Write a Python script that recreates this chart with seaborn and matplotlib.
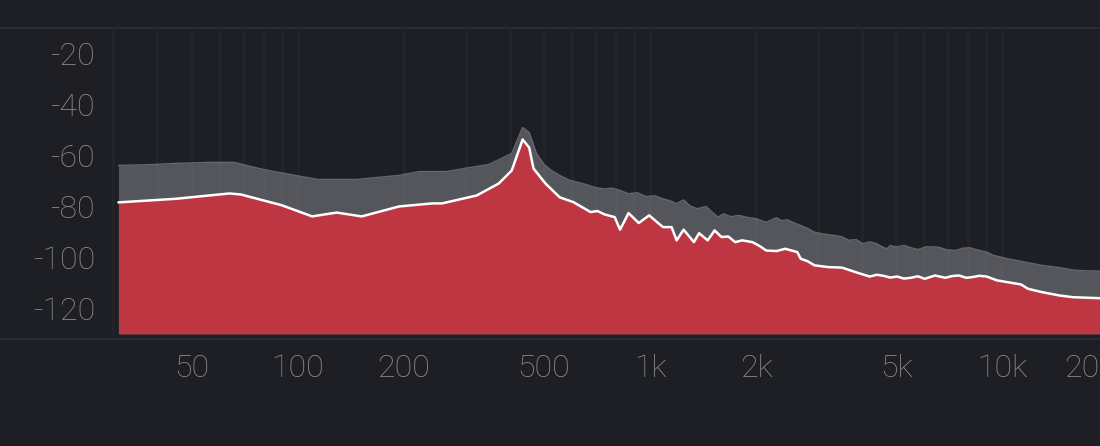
import pandas as pd
import matplotlib.pyplot as plt
import matplotlib.transforms as mtrans
import seaborn as sns

# peak hold (grey) and average (red) spectrum, dB
peak_freq = [31, 38, 45, 56, 66, 80, 100, 114, 147, 194, 221, 264, 300, 349, 405, 435, 454, 476,
             500, 525, 554, 593, 648, 700, 742, 780, 822, 869, 920, 972, 1030, 1088, 1140, 1190,
             1245, 1300, 1362, 1442, 1500, 1559, 1613, 1700, 1784, 1890, 1997, 2137, 2287, 2360,
             2446, 2560, 2676, 2800, 2928, 3100, 3352, 3500, 3668, 3850, 4012, 4200, 4391, 4550,
             4699, 4804, 5000, 5258, 5500, 5751, 6100, 6583, 6950, 7367, 7700, 8062, 8621, 9000,
             9437, 10320, 11550, 12920, 14470, 16190, 18870, 21500]
peak_db = [-63.9, -63.6, -63.1, -62.7, -62.7, -65.5, -68.0, -69.4, -69.4, -67.8, -66.3, -66.3,
           -65.0, -63.5, -59.2, -49.0, -51.0, -59.2, -63.5, -65.9, -67.8, -69.8, -71.1, -72.6,
           -73.1, -72.8, -73.7, -75.0, -74.6, -76.1, -75.8, -77.0, -77.8, -78.9, -77.4, -79.8,
           -80.9, -80.0, -82.2, -84.2, -82.9, -84.0, -83.5, -84.3, -84.8, -86.2, -84.4, -85.6,
           -85.2, -86.4, -87.5, -88.6, -90.1, -90.8, -91.4, -91.9, -93.3, -93.0, -94.6, -93.9,
           -94.6, -95.8, -96.6, -95.3, -95.9, -95.3, -96.2, -96.9, -95.8, -96.0, -97.0, -97.3,
           -96.4, -96.2, -97.3, -97.9, -99.2, -100.5, -101.8, -103.1, -104.0, -105.1, -105.4,
           -105.4]

avg_freq = [31, 45, 64, 69, 90, 110, 129, 152, 194, 241, 257, 322, 372, 405, 435, 454, 467, 505,
            554, 606, 678, 710, 742, 794, 822, 869, 929, 994, 1088, 1151, 1190, 1245, 1332, 1378,
            1457, 1525, 1595, 1668, 1745, 1825, 1953, 2050, 2137, 2287, 2417, 2617, 2676, 2801,
            2928, 3204, 3506, 3834, 4201, 4400, 4592, 4800, 5026, 5250, 5497, 5750, 6015, 6435,
            6887, 7200, 7533, 7900, 8241, 8600, 9020, 9647, 10320, 11290, 11810, 12920, 14470,
            15820, 18870, 21500]
avg_db = [-78.4, -77.0, -74.9, -75.3, -79.5, -83.9, -82.4, -83.9, -80.0, -78.8, -78.8, -75.7,
          -71.0, -65.9, -53.7, -56.9, -65.1, -71.0, -76.4, -78.3, -82.2, -81.8, -83.1, -84.2,
          -89.1, -82.6, -86.5, -83.5, -88.1, -88.1, -93.3, -89.1, -94.0, -90.5, -93.3, -89.4,
          -92.0, -91.8, -94.0, -93.3, -94.0, -95.6, -97.3, -97.5, -96.6, -97.9, -100.5, -101.5,
          -103.1, -103.8, -104.0, -105.8, -107.5, -106.8, -107.2, -107.9, -107.5, -108.3,
          -108.0, -107.4, -108.4, -107.1, -108.0, -107.3, -107.1, -108.0, -107.7, -107.2,
          -107.5, -109.0, -109.7, -110.6, -112.3, -113.6, -114.9, -115.6, -116.0, -116.0]

x_ticks = [50, 100, 200, 500, 1000, 2000, 5000, 10000, 20000]
x_labels = ["50", "100", "200", "500", "1k", "2k", "5k", "10k", "20k"]
y_ticks = [-20, -40, -60, -80, -100, -120]

bg = "#1e1f24"
sns.set_theme(style="dark", rc={"figure.facecolor": bg, "axes.facecolor": bg})
plt.rcParams["font.family"] = ["Roboto", "DejaVu Sans"]

peak = pd.DataFrame({"freq": peak_freq, "db": peak_db})
avg = pd.DataFrame({"freq": avg_freq, "db": avg_db})

fig = plt.figure(figsize=(11, 4.46), dpi=100)
ax = fig.add_axes([0, 0.24, 1.0178, 0.697])
ax.set_xscale("log")
ax.set_xlim(14.3, 21500)
ax.set_ylim(-132, -10)

floor = -130
ax.fill_between(peak["freq"], peak["db"], floor, color="#55565b", lw=0, zorder=2)
sns.lineplot(data=peak, x="freq", y="db", color="#66676c", lw=1, ax=ax, zorder=3)

# faint vertical log grid (hidden under the red area)
grid_f = [m * d for d in (10, 100, 1000, 10000) for m in range(1, 10) if 30 <= m * d <= 20000]
ax.vlines(grid_f, -131, -10.5, color="white", alpha=0.025, lw=2.5, zorder=3.5)

ax.fill_between(avg["freq"], avg["db"], floor, color="#be3642", lw=0, zorder=4)
sns.lineplot(data=avg, x="freq", y="db", color="white", lw=1.8, ax=ax, zorder=5)

ax.set_xticks(x_ticks)
ax.set_xticklabels(x_labels)
ax.xaxis.set_minor_locator(plt.NullLocator())
ax.set_yticks(y_ticks)
ax.set_yticklabels([str(v) for v in y_ticks])
ax.spines["left"].set_position(("data", 29.4))
for s in ["left", "right"]:
    ax.spines[s].set_color("none")
ax.spines["bottom"].set_color("#2e2f35")
ax.spines["top"].set_color("#2e2f35")
ax.spines["bottom"].set_linewidth(1.2)
ax.spines["top"].set_linewidth(1.2)
ax.tick_params(axis="both", colors="#2e2f35", labelcolor="#8c8c90", labelsize=23,
               length=4, width=1, direction="out")
ax.tick_params(axis="y", pad=7)
ax.tick_params(axis="x", pad=7)
for lab in ax.get_xticklabels() + ax.get_yticklabels():
    lab.set_fontweight("light")

# last label sits at the edge; nudge it left like the original
last = ax.get_xticklabels()[-1]
last.set_transform(last.get_transform() + mtrans.ScaledTranslation(-14 / 72, 0, fig.dpi_scale_trans))

ax.set_xlabel("")
ax.set_ylabel("")
ax.grid(False)

fig.savefig("out.png", dpi=100, facecolor=bg)
